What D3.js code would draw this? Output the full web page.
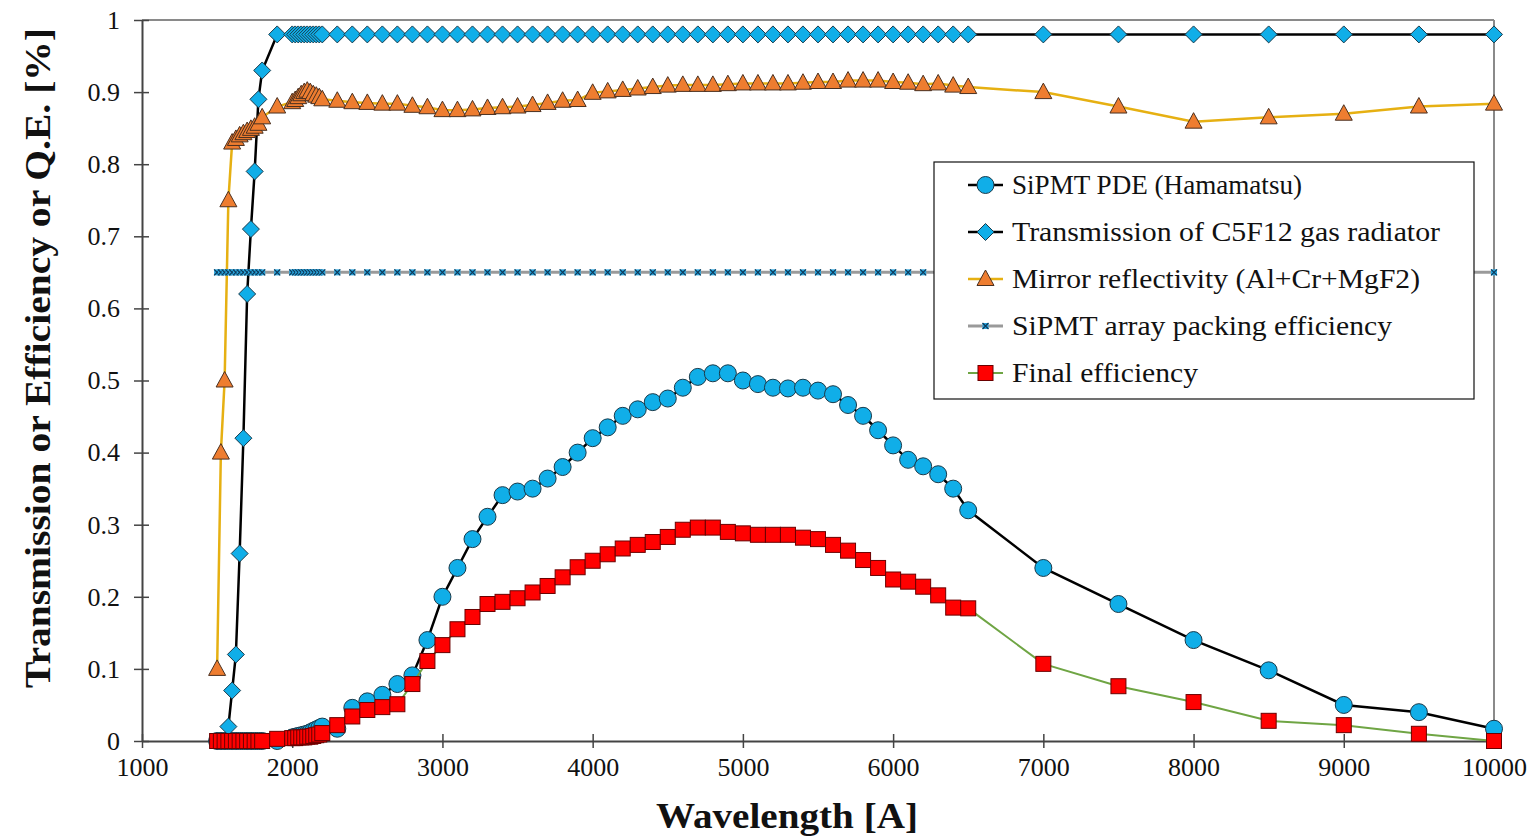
<!DOCTYPE html>
<html><head><meta charset="utf-8">
<script src="https://cdn.jsdelivr.net/npm/d3@7"></script>
<style>html,body{margin:0;padding:0;background:#fff;overflow:hidden}</style>
</head><body>
<svg id="chart" width="1537" height="839"></svg>
<script>
const wavelengths = [1500,1525,1550,1575,1600,1625,1650,1675,1700,1725,1750,1775,1800,1900,
  2000,2020,2040,2060,2080,2100,2120,2140,2160,2180,2200,
  2300,2400,2500,2600,2700,2800,2900,3000,3100,3200,3300,3400,3500,3600,3700,3800,3900,
  4000,4100,4200,4300,4400,4500,4600,4700,4800,4900,5000,5100,5200,5300,5400,5500,5600,5700,5800,5900,
  6000,6100,6200,6300,6400,6500,7000,7500,8000,8500,9000,9500,10000];
const pde = [0,0,0,0,0,0,0,0,0,0,0,0,0,0,
  0.005,0.006,0.007,0.008,0.009,0.010,0.012,0.014,0.016,0.018,0.020,
  0.017,0.046,0.055,0.064,0.079,0.091,0.14,0.20,0.24,0.28,0.311,0.341,0.346,0.35,0.364,0.38,0.40,
  0.42,0.435,0.451,0.46,0.47,0.475,0.49,0.505,0.51,0.51,0.50,0.495,0.49,0.489,0.49,0.486,0.481,0.466,0.451,0.431,
  0.41,0.39,0.381,0.37,0.35,0.32,0.24,0.19,0.14,0.098,0.05,0.04,0.017];
const transmission = [0,0,0,0.02,0.07,0.12,0.26,0.42,0.62,0.71,0.79,0.89,0.93,0.98,
  0.98,0.98,0.98,0.98,0.98,0.98,0.98,0.98,0.98,0.98,0.98,
  0.98,0.98,0.98,0.98,0.98,0.98,0.98,0.98,0.98,0.98,0.98,0.98,0.98,0.98,0.98,0.98,0.98,
  0.98,0.98,0.98,0.98,0.98,0.98,0.98,0.98,0.98,0.98,0.98,0.98,0.98,0.98,0.98,0.98,0.98,0.98,0.98,0.98,
  0.98,0.98,0.98,0.98,0.98,0.98,0.98,0.98,0.98,0.98,0.98,0.98,0.98];
const mirror = [0.10,0.40,0.50,0.75,0.83,0.835,0.84,0.843,0.846,0.849,0.852,0.856,0.865,0.88,
  0.886,0.889,0.893,0.897,0.900,0.902,0.900,0.897,0.895,0.893,0.890,
  0.888,0.886,0.885,0.884,0.884,0.881,0.879,0.875,0.875,0.876,0.878,0.879,0.880,0.882,0.885,0.888,0.889,
  0.899,0.901,0.903,0.905,0.907,0.909,0.910,0.910,0.910,0.911,0.912,0.912,0.912,0.912,0.913,0.914,0.914,0.916,0.916,0.916,
  0.914,0.913,0.911,0.912,0.909,0.907,0.900,0.880,0.859,0.865,0.870,0.880,0.884];
const packing = [0.65,0.65,0.65,0.65,0.65,0.65,0.65,0.65,0.65,0.65,0.65,0.65,0.65,0.65,
  0.65,0.65,0.65,0.65,0.65,0.65,0.65,0.65,0.65,0.65,0.65,
  0.65,0.65,0.65,0.65,0.65,0.65,0.65,0.65,0.65,0.65,0.65,0.65,0.65,0.65,0.65,0.65,0.65,
  0.65,0.65,0.65,0.65,0.65,0.65,0.65,0.65,0.65,0.65,0.65,0.65,0.65,0.65,0.65,0.65,0.65,0.65,0.65,0.65,
  0.65,0.65,0.65,0.65,0.65,0.65,0.65,0.65,0.65,0.65,0.65,0.65,0.65];
const finalEff = [0,0,0,0,0,0,0,0,0,0,0,0,0,0.003,
  0.004,0.004,0.005,0.005,0.005,0.006,0.006,0.007,0.008,0.009,0.011,
  0.022,0.034,0.043,0.047,0.051,0.079,0.111,0.133,0.155,0.172,0.19,0.193,0.198,0.206,0.215,0.227,0.241,
  0.25,0.259,0.267,0.272,0.276,0.283,0.293,0.296,0.296,0.29,0.288,0.286,0.286,0.286,0.282,0.28,0.272,0.264,0.251,0.24,
  0.224,0.221,0.214,0.202,0.185,0.184,0.107,0.076,0.054,0.028,0.022,0.01,0];
const xTicks = [1000,2000,3000,4000,5000,6000,7000,8000,9000,10000];
const yTicks = [0,0.1,0.2,0.3,0.4,0.5,0.6,0.7,0.8,0.9,1];
const seriesNames = ["SiPMT PDE (Hamamatsu)","Transmission of C5F12 gas radiator","Mirror reflectivity (Al+Cr+MgF2)","SiPMT array packing efficiency","Final efficiency"];

const svg = d3.select("#chart");
const font = "'Liberation Serif','Times New Roman',serif";
const x = d3.scaleLinear().domain([1000,10000]).range([142,1494]);
const y = d3.scaleLinear().domain([0,1]).range([741,20]);

// frame
svg.append("line").attr("x1",142).attr("x2",1494).attr("y1",20).attr("y2",20).attr("stroke","#8a8a8a").attr("stroke-width",2);
svg.append("line").attr("x1",1494).attr("x2",1494).attr("y1",20).attr("y2",741).attr("stroke","#8a8a8a").attr("stroke-width",2);

const xAxis = d3.axisBottom(x).tickValues(xTicks).tickFormat(d3.format("d")).tickSizeInner(7).tickSizeOuter(0);
const gx = svg.append("g").attr("transform","translate(0,741)").call(xAxis);
gx.select(".domain").attr("stroke","#444").attr("stroke-width",2);
gx.selectAll(".tick line").attr("stroke","#444").attr("stroke-width",1.5).attr("y1",-7).attr("y2",7);
gx.selectAll(".tick text").attr("font-family",font).attr("font-size",26).attr("fill","#111").attr("dy","0.95em").attr("y",10);

const yAxis = d3.axisLeft(y).tickValues(yTicks).tickFormat(d=>d===0?"0":d===1?"1":d3.format(".1f")(d)).tickSizeInner(7).tickSizeOuter(0);
const gy = svg.append("g").attr("transform","translate(142,0)").call(yAxis);
gy.select(".domain").attr("stroke","#444").attr("stroke-width",2);
gy.selectAll(".tick line").attr("stroke","#444").attr("stroke-width",1.5).attr("x1",-8).attr("x2",7);
gy.selectAll(".tick text").attr("font-family",font).attr("font-size",26).attr("fill","#111").attr("x",-22);

// titles
svg.append("text").attr("transform","translate(50,358) rotate(-90)").attr("text-anchor","middle")
  .attr("font-family",font).attr("font-weight","bold").attr("font-size",36).attr("fill","#111")
  .attr("textLength",660).attr("lengthAdjust","spacingAndGlyphs").text("Transmission or Efficiency or Q.E. [%]");
svg.append("text").attr("x",787).attr("y",828).attr("text-anchor","middle")
  .attr("font-family",font).attr("font-weight","bold").attr("font-size",35).attr("fill","#111")
  .attr("textLength",262).attr("lengthAdjust","spacingAndGlyphs").text("Wavelength [A]");

const styles = [
  {vals:pde, line:"#000", lw:2.5, marker:"circle"},
  {vals:transmission, line:"#000", lw:2.5, marker:"diamond"},
  {vals:mirror, line:"#E6B012", lw:2.5, marker:"triangle"},
  {vals:packing, line:"#9a9a9a", lw:3, marker:"xmark"},
  {vals:finalEff, line:"#6FA544", lw:2, marker:"square"}
];
const legendWidths = [290, 428, 408, 380, 186];
function drawMarker(g, type){
  if(type==="circle") g.append("circle").attr("r",8.5).attr("fill","#10AEE8").attr("stroke","#1a3a4a").attr("stroke-width",1);
  else if(type==="diamond") g.append("path").attr("d","M0,-8.5L8.5,0L0,8.5L-8.5,0Z").attr("fill","#10AEE8").attr("stroke","#1a3a4a").attr("stroke-width",1);
  else if(type==="triangle") g.append("path").attr("d","M0,-9L8.5,6.5L-8.5,6.5Z").attr("fill","#EE7D30").attr("stroke","#4a3020").attr("stroke-width",1);
  else if(type==="square") g.append("rect").attr("x",-7.5).attr("y",-7.5).attr("width",15).attr("height",15).attr("fill","#FF0000").attr("stroke","#6a0000").attr("stroke-width",1);
  else if(type==="xmark"){
    g.append("rect").attr("x",-3).attr("y",-3).attr("width",6).attr("height",6).attr("fill","#2aa4dc");
    g.append("path").attr("d","M-3,-3L3,3M-3,3L3,-3").attr("stroke","#0c3a5a").attr("stroke-width",1.3);
  }
}
const lineGen = vals => d3.line().x((d,i)=>x(wavelengths[i])).y(d=>y(d))(vals);
styles.forEach(s=>{
  svg.append("path").attr("d",lineGen(s.vals)).attr("fill","none").attr("stroke",s.line).attr("stroke-width",s.lw);
  const mg = svg.append("g");
  s.vals.forEach((v,i)=>{
    const g = mg.append("g").attr("transform",`translate(${x(wavelengths[i])},${y(v)})`);
    drawMarker(g, s.marker);
  });
});

// legend
const lg = svg.append("g");
lg.append("rect").attr("x",934).attr("y",162).attr("width",540).attr("height",237).attr("fill","#fff").attr("stroke","#111").attr("stroke-width",1.2);
seriesNames.forEach((name,i)=>{
  const yy = 185 + i*47;
  lg.append("line").attr("x1",968).attr("x2",1003).attr("y1",yy).attr("y2",yy).attr("stroke",styles[i].line).attr("stroke-width",styles[i].lw);
  const g = lg.append("g").attr("transform",`translate(985.5,${yy})`);
  drawMarker(g, styles[i].marker);
  lg.append("text").attr("x",1012).attr("y",yy).attr("dy","0.33em").attr("font-family",font).attr("font-size",28).attr("fill","#111")
    .attr("textLength",legendWidths[i]).attr("lengthAdjust","spacingAndGlyphs").text(name);
});
</script>
</body></html>
